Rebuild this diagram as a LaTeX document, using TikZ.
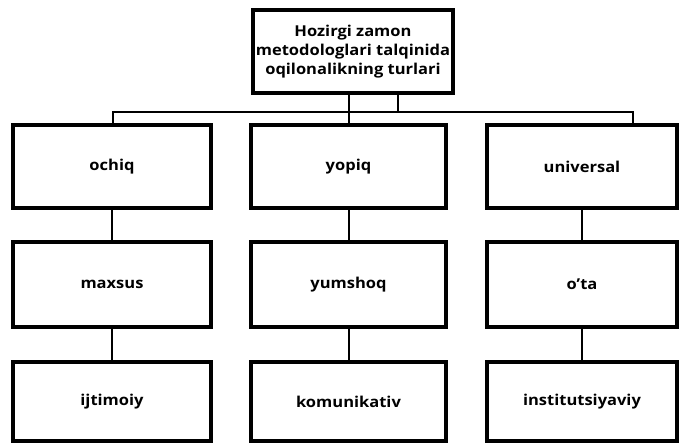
\documentclass[tikz,border=0pt]{standalone}
\usepackage{fontspec}
\setmainfont{Open Sans}
\newfontfamily\lblfont{Open Sans}[FakeStretch=1.1, Ligatures=TeX]
\begin{document}
\begin{tikzpicture}[x=1pt,y=1pt,
  box/.style={draw=black, line width=3.4pt, rectangle, inner sep=2pt, align=center,
    font=\lblfont\fontsize{15}{19}\selectfont\bfseries},
  conn/.style={draw=black, line width=2pt}]
\useasboundingbox (0,0) rectangle (679,444);
% top
\node[box, minimum width=200, minimum height=83] (top) at (353,392.5)
  {Hozirgi zamon\\metodologlari talqinida\\oqilonalikning turlari};
% row 1
\node[box, minimum width=198, minimum height=83] (l1) at (112,277.5) {ochiq};
\node[box, minimum width=195, minimum height=83] (m1) at (348.5,277.5) {yopiq};
\node[box, minimum width=190, minimum height=83] (r1) at (582,277.5) {universal};
% row 2
\node[box, minimum width=198, minimum height=85] (l2) at (112,159.5) {maxsus};
\node[box, minimum width=195, minimum height=85] (m2) at (348.5,159.5) {yumshoq};
\node[box, minimum width=190, minimum height=85] (r2) at (582,159.5) {o’ta};
% row 3
\node[box, minimum width=198, minimum height=79] (l3) at (112,42.5) {ijtimoiy};
\node[box, minimum width=195, minimum height=79] (m3) at (348.5,42.5) {komunikativ};
\node[box, minimum width=190, minimum height=79] (r3) at (582,42.5) {institutsiyaviy};
% bus
\coordinate (busL) at (113,332);
\coordinate (busR) at (633,332);
\coordinate (t2) at (398,351);
\coordinate (t2b) at (398,332);
\draw[conn] (l1.north -| busL) -- (busL) -- (busR) -- (r1.north -| busR);
\draw[conn] (top.south -| m1.north) -- (m1.north);
\draw[conn] (t2) -- (t2b);
% verticals
\draw[conn] (l1.south) -- (l2.north);
\draw[conn] (m1.south) -- (m2.north);
\draw[conn] (r1.south) -- (r2.north);
\draw[conn] (l2.south) -- (l3.north);
\draw[conn] (m2.south) -- (m3.north);
\draw[conn] (r2.south) -- (r3.north);
\end{tikzpicture}
\end{document}
